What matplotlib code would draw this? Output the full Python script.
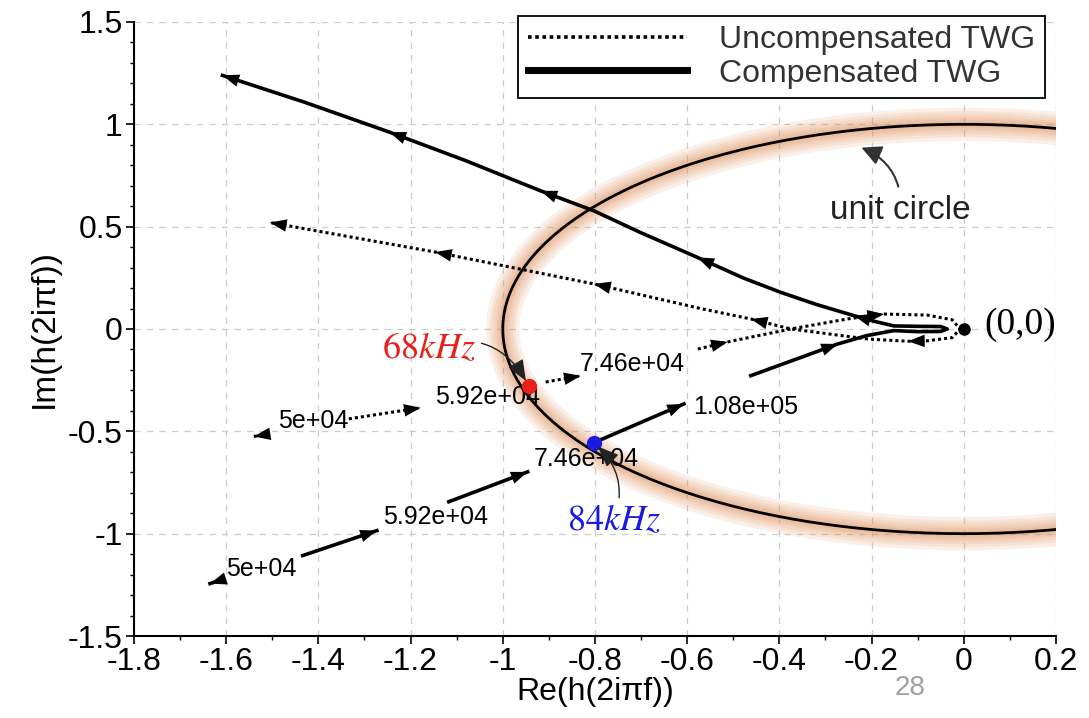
import numpy as np
import matplotlib.pyplot as plt
from matplotlib.lines import Line2D
from matplotlib.ticker import MultipleLocator

plt.rcParams['font.family'] = ['Liberation Sans', 'DejaVu Sans']
plt.rcParams['mathtext.fontset'] = 'stix'

# Uncompensated TWG, points in order of rising frequency (nan = gap where a label sits)
unc_re = [-1.54, -1.515, np.nan,
          -1.334, -1.178, np.nan,
          -0.907, -0.831, np.nan,
          -0.577, -0.512, -0.375, -0.25, -0.173, -0.08, -0.025, -0.008, -0.025, -0.08,
          -0.121, -0.208, -0.375, -0.462, -0.571, -0.802, -1.147, -1.505]
unc_im = [-0.525, -0.516, np.nan,
          -0.439, -0.385, np.nan,
          -0.259, -0.229, np.nan,
          -0.098, -0.063, 0.0, 0.05, 0.073, 0.068, 0.045, 0.0, -0.042, -0.058,
          -0.06, -0.049, 0.0, 0.049, 0.10, 0.22, 0.376, 0.52]
unc_arrow_re = [-1.54, -1.178, -0.831, -0.512, -0.173, -0.121, -0.462, -0.802, -1.147, -1.505]
unc_arrow_im = [-0.525, -0.385, -0.229, -0.063, 0.073, -0.06, 0.049, 0.22, 0.376, 0.52]
unc_freq = ['5e+04', '5.92e+04', '7.46e+04']
unc_freq_re = [-1.412, -1.033, -0.718]
unc_freq_im = [-0.449, -0.332, -0.171]

# Compensated TWG
comp_re = [-1.635, -1.61, np.nan,
           -1.434, -1.273, np.nan,
           -1.117, -0.946, np.nan,
           -0.803, -0.607, np.nan,
           -0.462, -0.273, -0.21, -0.152, -0.10, -0.05, -0.036, -0.05, -0.10, -0.152,
           -0.195, -0.238, -0.32, -0.397, -0.477, -0.578, -0.70, -0.802, -0.918,
           -1.08, -1.246, -1.43, -1.608]
comp_im = [-1.244, -1.226, np.nan,
           -1.107, -0.985, np.nan,
           -0.844, -0.698, np.nan,
           -0.556, -0.366, np.nan,
           -0.228, -0.073, -0.032, -0.008, -0.013, -0.012, 0.0, 0.012, 0.013, 0.015,
           0.038, 0.065, 0.12, 0.179, 0.248, 0.35, 0.47, 0.577, 0.675,
           0.822, 0.962, 1.108, 1.239]
comp_arrow_re = [-1.635, -1.273, -0.946, -0.607, -0.273, -0.238, -0.578, -0.918, -1.246, -1.608]
comp_arrow_im = [-1.244, -0.985, -0.698, -0.366, -0.073, 0.065, 0.35, 0.675, 0.962, 1.239]
comp_freq = ['5e+04', '5.92e+04', '7.46e+04', '1.08e+05']
comp_freq_re = [-1.523, -1.145, -0.818, -0.473]
comp_freq_im = [-1.171, -0.917, -0.634, -0.38]

# crossings with the unit circle
cross_re = [-0.944, -0.803]
cross_im = [-0.278, -0.556]
cross_text = [r'$68kHz$', r'$84kHz$']
cross_color = ['#e8201c', '#1a1ae0']
cross_text_re = [-1.16, -0.759]
cross_text_im = [-0.098, -0.937]

xticks = [-1.8, -1.6, -1.4, -1.2, -1.0, -0.8, -0.6, -0.4, -0.2, 0.0, 0.2]
xtick_labels = ['-1.8', '-1.6', '-1.4', '-1.2', '-1', '-0.8', '-0.6', '-0.4', '-0.2', '0', '0.2']
yticks = [-1.5, -1.0, -0.5, 0.0, 0.5, 1.0, 1.5]
ytick_labels = ['-1.5', '-1', '-0.5', '0', '0.5', '1', '1.5']

fig = plt.figure(figsize=(10.89, 7.18), dpi=100)
ax = fig.add_axes([0.123, 0.1142, 0.8467, 0.8552])
ax.set_xlim(-1.8, 0.2)
ax.set_ylim(-1.5, 1.5)

ax.set_axisbelow(True)
ax.grid(True, which='major', color='#cccccc', linestyle=(0, (5, 5)), linewidth=0.9)
for s in ['top', 'right']:
    ax.spines[s].set_visible(False)
for s in ['left', 'bottom']:
    ax.spines[s].set_linewidth(1.5)
ax.xaxis.set_minor_locator(MultipleLocator(0.1))
ax.yaxis.set_minor_locator(MultipleLocator(0.1))
ax.set_xticks(xticks)
ax.set_xticklabels(xtick_labels)
ax.set_yticks(yticks)
ax.set_yticklabels(ytick_labels)
ax.tick_params(which='major', direction='out', length=6, width=1.2, labelsize=23, pad=2)
ax.tick_params(which='minor', direction='out', length=3, width=1)

# unit circle with a soft orange glow
theta = np.linspace(0, 2 * np.pi, 500)
cx, cy = np.cos(theta), np.sin(theta)
for w in [24, 19, 15, 11, 8, 5]:
    ax.plot(cx, cy, color='#e0905a', lw=w, alpha=0.13, zorder=1)
ax.plot(cx, cy, color='black', lw=2, zorder=4)

ax.plot(unc_re, unc_im, color='black', lw=2.2, linestyle=(0, (1, 1)), zorder=3)
ax.plot(comp_re, comp_im, color='black', lw=2.6, zorder=3)


def add_arrows(xs, ys, ar_x, ar_y):
    xs = np.asarray(xs, dtype=float)
    ys = np.asarray(ys, dtype=float)
    for x, y in zip(ar_x, ar_y):
        d = (xs - x) ** 2 + (ys - y) ** 2
        i = int(np.nanargmin(d))
        if i > 0 and not np.isnan(xs[i - 1]):
            dx, dy = xs[i] - xs[i - 1], ys[i] - ys[i - 1]
        else:
            dx, dy = xs[i] - xs[i + 1], ys[i] - ys[i + 1]
        L = np.hypot(dx * 461, dy * 205)
        s = 12.0 / L
        ax.annotate('', xy=(xs[i], ys[i]), xytext=(xs[i] - dx * s, ys[i] - dy * s),
                    arrowprops=dict(arrowstyle='-|>,head_length=0.8,head_width=0.3',
                                    mutation_scale=15, fc='black', ec='black', lw=0,
                                    shrinkA=0, shrinkB=0),
                    zorder=5)


add_arrows(unc_re, unc_im, unc_arrow_re, unc_arrow_im)
add_arrows(comp_re, comp_im, comp_arrow_re, comp_arrow_im)

for t, x, y in zip(unc_freq, unc_freq_re, unc_freq_im):
    ax.text(x, y, t, fontsize=18, ha='center', va='center', zorder=3.5)
for t, x, y in zip(comp_freq, comp_freq_re, comp_freq_im):
    ax.text(x, y, t, fontsize=18, ha='center', va='center', zorder=3.5)

# crossing dots and their labels
rads = [-0.45, 0.35]
for x, y, t, c, tx, ty, r in zip(cross_re, cross_im, cross_text, cross_color,
                                 cross_text_re, cross_text_im, rads):
    ax.plot(x, y, 'o', color=c, ms=10, zorder=6)
    ax.annotate(t, xy=(x, y), xytext=(tx, ty), color=c, fontsize=26,
                ha='center', va='center', zorder=6,
                arrowprops=dict(arrowstyle='-|>,head_length=0.5,head_width=0.2',
                                connectionstyle='arc3,rad=%s' % r, color='#222222',
                                lw=1.0, shrinkA=2, shrinkB=4))

ax.plot(0, 0, 'o', color='black', ms=8, zorder=6)
ax.text(0.045, 0.02, '(0,0)', fontsize=27, family='Liberation Serif',
        ha='left', va='center', zorder=6)

ax.annotate('unit circle', xy=(-0.222, 0.886), xytext=(-0.137, 0.58),
            fontsize=24, ha='center', va='center', color='#222222',
            arrowprops=dict(arrowstyle='-|>,head_length=0.5,head_width=0.25',
                            connectionstyle='arc3,rad=0.35', color='#333333', lw=1.5,
                            shrinkA=4, shrinkB=0))

ax.set_xlabel('Re(h(2iπf))', fontsize=23, labelpad=0)
ax.set_ylabel('Im(h(2iπf))', fontsize=24, labelpad=6)

handles = [Line2D([0], [0], color='black', lw=2.6, linestyle=(0, (1, 1))),
           Line2D([0], [0], color='black', lw=5)]
leg = ax.legend(handles, ['Uncompensated TWG', 'Compensated TWG'],
                loc='upper right', bbox_to_anchor=(0.988, 1.01), fontsize=23,
                fancybox=False, edgecolor='black', framealpha=1, handlelength=5.0,
                borderpad=0.3, labelspacing=0.1, handletextpad=1.0, borderaxespad=0)
leg.get_frame().set_linewidth(1.3)
for t in leg.get_texts():
    t.set_color('#333333')

fig.text(0.836, 0.042, '28', color='#a0a0a0', fontsize=20, ha='center', va='center')

fig.savefig('out.png', dpi=100)
